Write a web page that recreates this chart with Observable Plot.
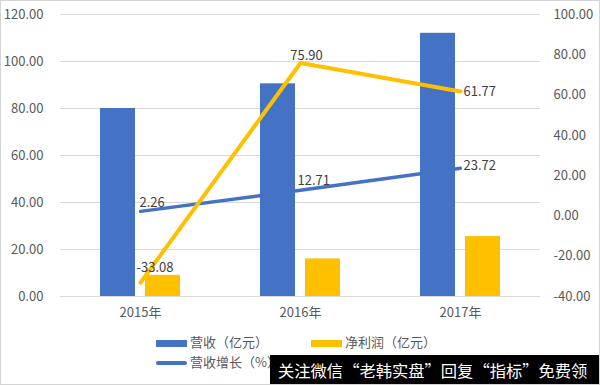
<!DOCTYPE html>
<html><head><meta charset="utf-8">
<script src="https://cdn.jsdelivr.net/npm/d3@7"></script>
<script src="https://cdn.jsdelivr.net/npm/@observablehq/plot@0.6"></script>
<style>
body{margin:0;background:#fff;font-family:"Noto Sans CJK SC",sans-serif;}
#wrap{position:relative;width:600px;height:385px;overflow:hidden;background:#fff}
#chart svg{display:block}
.sw{position:absolute;width:31px}
.lt{position:absolute;font-size:13px;color:#595959;line-height:20px;white-space:nowrap}
#wm{position:absolute;left:270px;top:355px;width:330px;height:30px;background:#000;color:#fff;font-size:16.3px;line-height:30px;padding-left:8px;box-sizing:border-box;white-space:nowrap}
#frame{position:absolute;left:0;top:0;width:600px;height:385px;box-sizing:border-box;border:1px solid #d4d4d4;pointer-events:none}
</style></head><body>
<div id="wrap"><div id="chart"></div><div id="legend"></div><div id="wm"></div><div id="frame"></div></div>
<script>
const years = ["2015年", "2016年", "2017年"];
const revenue = [80.0, 90.5, 112.0];          // 营收（亿元）
const netProfit = [9.0, 16.0, 25.5];          // 净利润（亿元）
const revenueGrowth = [2.26, 12.71, 23.72];   // 营收增长（%）
const profitGrowth = [-33.08, 75.90, 61.77];  // 净利润增长（%）
const leftTicks = [0, 20, 40, 60, 80, 100, 120];
const rightTicks = [-40, -20, 0, 20, 40, 60, 80, 100];
const seriesNames = ["营收（亿元）", "净利润（亿元）", "营收增长（%）"];
const watermark = "关注微信“老韩实盘”回复“指标”免费领";

const BLUE = "#4472C4", GOLD = "#FFC000", TXT = "#404040";
const lmin = 0, lmax = 120, rmin = -40, rmax = 100;
const toLeft = v => (v - rmin) / (rmax - rmin) * (lmax - lmin) + lmin;
const fromLeft = u => (u - lmin) / (lmax - lmin) * (rmax - rmin) + rmin;

const barRows = years.map((y, i) => ({year: y, revenue: revenue[i], profit: netProfit[i]}));
const lineRows = years.map((y, i) => ({year: y, rg: revenueGrowth[i], pg: profitGrowth[i]}));

// label placement (style, not data)
const rgPlace = [{a: "start", dx: -1, dy: -9}, {a: "start", dx: -3, dy: -9}, {a: "start", dx: 3, dy: -2}];
const pgPlace = [{a: "start", dx: -4, dy: -15}, {a: "middle", dx: 6, dy: -7}, {a: "start", dx: 3, dy: 0}];

const labelMarks = [];
lineRows.forEach((r, i) => {
  labelMarks.push(Plot.text([r], {x: "year", y: d => toLeft(d.rg), text: d => d.rg.toFixed(2), textAnchor: rgPlace[i].a, dx: rgPlace[i].dx, dy: rgPlace[i].dy, fill: TXT, fontSize: 13}));
  labelMarks.push(Plot.text([r], {x: "year", y: d => toLeft(d.pg), text: d => d.pg.toFixed(2), textAnchor: pgPlace[i].a, dx: pgPlace[i].dx, dy: pgPlace[i].dy, fill: TXT, fontSize: 13}));
});

const chart = Plot.plot({
  width: 600, height: 325,
  marginTop: 14, marginBottom: 29, marginLeft: 60, marginRight: 60,
  style: {fontFamily: '"Noto Sans CJK SC", sans-serif', fontSize: "13px", color: "#595959", background: "transparent"},
  x: {type: "band", domain: years, padding: 0, label: null},
  y: {domain: [lmin, lmax], label: null},
  marks: [
    Plot.gridY(leftTicks, {stroke: "#d9d9d9", strokeOpacity: 1, strokeWidth: 1}),
    Plot.axisY(leftTicks, {anchor: "left", tickSize: 0, tickPadding: 17, tickFormat: d => d.toFixed(2), label: null, fill: "#595959"}),
    Plot.axisY(rightTicks.map(toLeft), {anchor: "right", tickSize: 0, tickPadding: 13, tickFormat: d => fromLeft(d).toFixed(2), label: null, fill: "#595959"}),
    Plot.axisX({tickSize: 0, tickPadding: 11, label: null, fill: "#595959"}),
    Plot.barY(barRows, {x: "year", y: "revenue", fill: BLUE, insetLeft: 40, insetRight: 85}),
    Plot.barY(barRows, {x: "year", y: "profit", fill: GOLD, insetLeft: 85, insetRight: 40}),
    Plot.line(lineRows, {x: "year", y: d => toLeft(d.rg), stroke: BLUE, strokeWidth: 3.5, strokeLinecap: "round"}),
    Plot.line(lineRows, {x: "year", y: d => toLeft(d.pg), stroke: GOLD, strokeWidth: 4, strokeLinecap: "round", strokeLinejoin: "miter"}),
    ...labelMarks
  ]
});
document.getElementById("chart").appendChild(chart);

// legend (the 4th entry is hidden behind the watermark in the reference)
const lg = document.getElementById("legend");
const items = [
  {name: seriesNames[0], color: BLUE, kind: "bar", x: 156, y: 343, w: null},
  {name: seriesNames[1], color: GOLD, kind: "bar", x: 311, y: 343, w: null},
  {name: seriesNames[2], color: BLUE, kind: "line", x: 156, y: 363, w: 80}
];
items.forEach(it => {
  const s = document.createElement("div");
  s.className = "sw";
  const h = it.kind === "bar" ? 7 : 4;
  s.style.left = it.x + "px";
  s.style.top = (it.y - h / 2) + "px";
  s.style.height = h + "px";
  s.style.background = it.color;
  if (it.kind === "line") s.style.borderRadius = "2px";
  lg.appendChild(s);
  const t = document.createElement("div");
  t.className = "lt";
  t.textContent = it.name;
  t.style.left = (it.x + 34) + "px";
  t.style.top = (it.y - 11) + "px";
  if (it.w) { t.style.width = it.w + "px"; t.style.overflow = "hidden"; }
  lg.appendChild(t);
});
document.getElementById("wm").textContent = watermark;
</script>
</body></html>
